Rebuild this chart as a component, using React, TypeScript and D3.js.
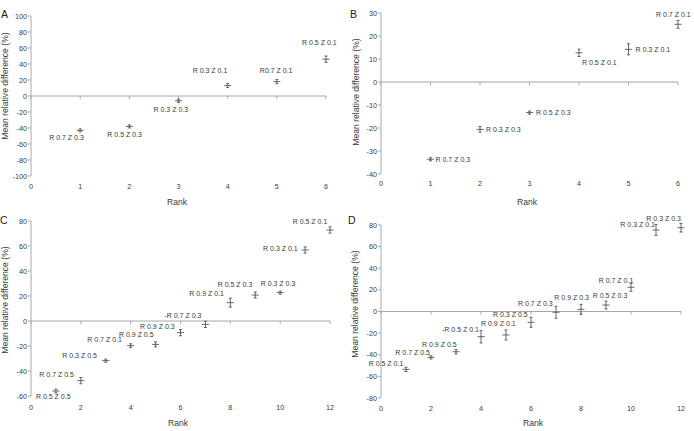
import React from "react"
import * as d3 from "d3"

// Panel A
const ranksA = [1, 2, 3, 4, 5, 6]
const valuesA = [-43, -38, -6, 13, 18, 46]
const errorsA = [1.5, 1.5, 2, 2.5, 2.5, 4]
const labelsA = ["R 0.7 Z 0.3", "R 0.5 Z 0.3", "R 0.3 Z 0.3", "R 0.3 Z 0.1", "R0.7 Z 0.1", "R 0.5 Z 0.1"]
const yTicksA = [-100, -80, -60, -40, -20, 0, 20, 40, 60, 80, 100]

// Panel B
const ranksB = [1, 2, 3, 4, 5, 6]
const valuesB = [-33.6, -20.6, -13.3, 12.7, 14.2, 25.1]
const errorsB = [0.5, 1.2, 0.6, 1.6, 2.4, 1.7]
const labelsB = ["R 0.7 Z 0.3", "R 0.3 Z 0.3", "R 0.5 Z 0.3", "R 0.5 Z 0.1", "R 0.3 Z 0.1", "R 0.7 Z 0.1"]
const yTicksB = [-40, -30, -20, -10, 0, 10, 20, 30]

// Panel C
const ranksC = [1, 2, 3, 4, 5, 6, 7, 8, 9, 10, 11, 12]
const valuesC = [-56, -47.7, -31.7, -19.7, -18.7, -9.3, -2.7, 14.7, 20.8, 22.7, 56.8, 72.8]
const errorsC = [1.5, 2.5, 1, 1.5, 2, 2.5, 2.5, 3.6, 2.4, 1.2, 2.5, 2.5]
const labelsC = [
  "R 0.5 Z 0.5", "R 0.7 Z 0.5", "R 0.3 Z 0.5", "R 0.7 Z 0.1", "R 0.9 Z 0.5", "R 0.9 Z 0.3",
  "-R 0.7 Z 0.3", "R 0.9 Z 0.1", "R 0.5 Z 0.3", "R 0.3 Z 0.3", "R 0.3 Z 0.1", "R 0.5 Z 0.1",
]
const yTicksC = [-60, -40, -20, 0, 20, 40, 60, 80]

// Panel D
const ranksD = [1, 2, 3, 4, 5, 6, 7, 8, 9, 10, 11, 12]
const valuesD = [-53.5, -42.4, -37.2, -23.3, -21.7, -10, -0.7, 2, 6, 22.4, 75.4, 77.5]
const errorsD = [2, 1.5, 2, 5.8, 4.6, 4.6, 5.5, 4.6, 3.7, 3.7, 5, 4]
const labelsD = [
  "R 0.5 Z 0.1", "R 0.7 Z 0.5", "R 0.9 Z 0.5", "-R 0.5 Z 0.1", "R 0.9 Z 0.1", "R 0.3 Z 0.5",
  "R 0.7 Z 0.3", "R 0.9 Z 0.3", "R 0.5 Z 0.3", "R 0.7 Z 0.1", "R 0.3 Z 0.1", "R 0.3 Z 0.3",
]
const yTicksD = [-80, -60, -40, -20, 0, 20, 40, 60, 80]

const xTicks6 = [0, 1, 2, 3, 4, 5, 6]
const xTicks12 = [0, 2, 4, 6, 8, 10, 12]

// label placement relative to each marker: [dx to text start, dy to text centre]
const offsetsA: [number, number][] = [[-31, 7.6], [-22, 8.6], [-25, 9.2], [-35, -14.6], [-17, -10.6], [-24, -16.2]]
const offsetsB: [number, number][] = [[5, 0], [6, 0], [6.5, 0], [3, 9.6], [7, 0], [-22, -9.3]]
const offsetsC: [number, number][] = [
  [-20, 6], [-41.5, -5.7], [-43.5, -5], [-43.4, -5.7], [-36.6, -10], [-40.5, -6],
  [-41, -9.3], [-41, -8.7], [-37.6, -10], [-19.5, -8.7], [-42, -1.7], [-37.3, -8.3],
]
const offsetsD: [number, number][] = [
  [-37.3, -6], [-35.7, -5], [-34, -7.4], [-39, -7.4], [-25, -11], [-38, -7.3],
  [-38, -8.3], [-26.7, -11.3], [-13.3, -9], [-32.3, -6.3], [-35.7, -5.7], [-34.7, -8.7],
]

const FONT = "'Liberation Sans', Arial, sans-serif"
const AXIS = "#a8a8a8"
const INK = "#3a3a3a"

type PanelProps = {
  letter: string
  letterPos: [number, number]
  ranks: number[]
  values: number[]
  errors: number[]
  labels: string[]
  offsets: [number, number][]
  xMax: number
  xTicks: number[]
  yTicks: number[]
  xRange: [number, number]
  yRange: [number, number]
  xLabelY: number
  titlePos: [number, number]
  rankPos: [number, number]
}

const Panel: React.FC<PanelProps> = (p) => {
  const yMin = p.yTicks[0]
  const yMax = p.yTicks[p.yTicks.length - 1]
  const x = d3.scaleLinear().domain([0, p.xMax]).range(p.xRange)
  const y = d3.scaleLinear().domain([yMin, yMax]).range(p.yRange)
  const x0 = p.xRange[0]
  const zero = y(0)

  return (
    <g fontFamily={FONT}>
      <text x={p.letterPos[0]} y={p.letterPos[1]} fontSize={10.5} fill="#222">
        {p.letter}
      </text>

      {/* y axis */}
      <line x1={x0} x2={x0} y1={y(yMax)} y2={y(yMin)} stroke={AXIS} strokeWidth={1} />
      {p.yTicks.map((t) => (
        <g key={`y${t}`}>
          <line x1={x0 - 3} x2={x0} y1={y(t)} y2={y(t)} stroke={AXIS} />
          <text x={x0 - 4} y={y(t)} dy="0.35em" textAnchor="end" fontSize={7.2} fill={INK}>
            {t}
          </text>
        </g>
      ))}

      {/* x axis drawn along zero */}
      <line x1={x0} x2={p.xRange[1]} y1={zero} y2={zero} stroke={AXIS} strokeWidth={1} />
      {p.xTicks.map((t) => (
        <g key={`x${t}`}>
          <line x1={x(t)} x2={x(t)} y1={zero} y2={zero + 3} stroke={AXIS} />
          <text x={x(t)} y={p.xLabelY} dy="0.35em" textAnchor="middle" fontSize={7.2} fill={INK}>
            {t}
          </text>
        </g>
      ))}

      <text
        transform={`translate(${p.titlePos[0]},${p.titlePos[1]}) rotate(-90)`}
        textAnchor="middle"
        fontSize={8.6}
        fill={INK}
      >
        Mean relative difference (%)
      </text>
      <text x={p.rankPos[0]} y={p.rankPos[1]} dy="0.35em" textAnchor="middle" fontSize={8.6} fill={INK}>
        Rank
      </text>

      {/* markers with error bars */}
      {p.ranks.map((r, i) => {
        const cx = x(r)
        const cy = y(p.values[i])
        const top = Math.min(y(p.values[i] + p.errors[i]), cy - 1.5)
        const bot = Math.max(y(p.values[i] - p.errors[i]), cy + 1.5)
        return (
          <g key={`m${i}`} stroke="#555" strokeWidth={0.9}>
            <line x1={cx} x2={cx} y1={top} y2={bot} />
            <line x1={cx - 1.5} x2={cx + 1.5} y1={top} y2={top} />
            <line x1={cx - 1.5} x2={cx + 1.5} y1={bot} y2={bot} />
            <line x1={cx - 3.5} x2={cx + 3.5} y1={cy} y2={cy} />
          </g>
        )
      })}
      {p.ranks.map((r, i) => (
        <text
          key={`l${i}`}
          x={x(r) + p.offsets[i][0]}
          y={y(p.values[i]) + p.offsets[i][1]}
          dy="0.35em"
          fontSize={7}
          fill={INK}
        >
          {p.labels[i]}
        </text>
      ))}
    </g>
  )
}

const App: React.FC = () => {
  return (
    <svg
      width={694}
      height={431}
      style={{ position: "absolute", left: 0, top: 0, background: "#fff" }}
    >
      <rect width={694} height={431} fill="#fff" />
      <Panel
        letter="A"
        letterPos={[1, 18]}
        ranks={ranksA}
        values={valuesA}
        errors={errorsA}
        labels={labelsA}
        offsets={offsetsA}
        xMax={6}
        xTicks={xTicks6}
        yTicks={yTicksA}
        xRange={[31, 326]}
        yRange={[176, 16]}
        xLabelY={186}
        titlePos={[8, 86]}
        rankPos={[177, 202]}
      />
      <Panel
        letter="B"
        letterPos={[350, 18]}
        ranks={ranksB}
        values={valuesB}
        errors={errorsB}
        labels={labelsB}
        offsets={offsetsB}
        xMax={6}
        xTicks={xTicks6}
        yTicks={yTicksB}
        xRange={[381, 678]}
        yRange={[174, 13]}
        xLabelY={183}
        titlePos={[359, 92]}
        rankPos={[527, 202]}
      />
      <Panel
        letter="C"
        letterPos={[0, 224]}
        ranks={ranksC}
        values={valuesC}
        errors={errorsC}
        labels={labelsC}
        offsets={offsetsC}
        xMax={12}
        xTicks={xTicks12}
        yTicks={yTicksC}
        xRange={[31, 330]}
        yRange={[396, 221]}
        xLabelY={407}
        titlePos={[8, 300]}
        rankPos={[178, 423]}
      />
      <Panel
        letter="D"
        letterPos={[348, 224]}
        ranks={ranksD}
        values={valuesD}
        errors={errorsD}
        labels={labelsD}
        offsets={offsetsD}
        xMax={12}
        xTicks={xTicks12}
        yTicks={yTicksD}
        xRange={[381, 681]}
        yRange={[398, 225]}
        xLabelY={408}
        titlePos={[358, 304]}
        rankPos={[533, 423]}
      />
    </svg>
  )
}

export default App
